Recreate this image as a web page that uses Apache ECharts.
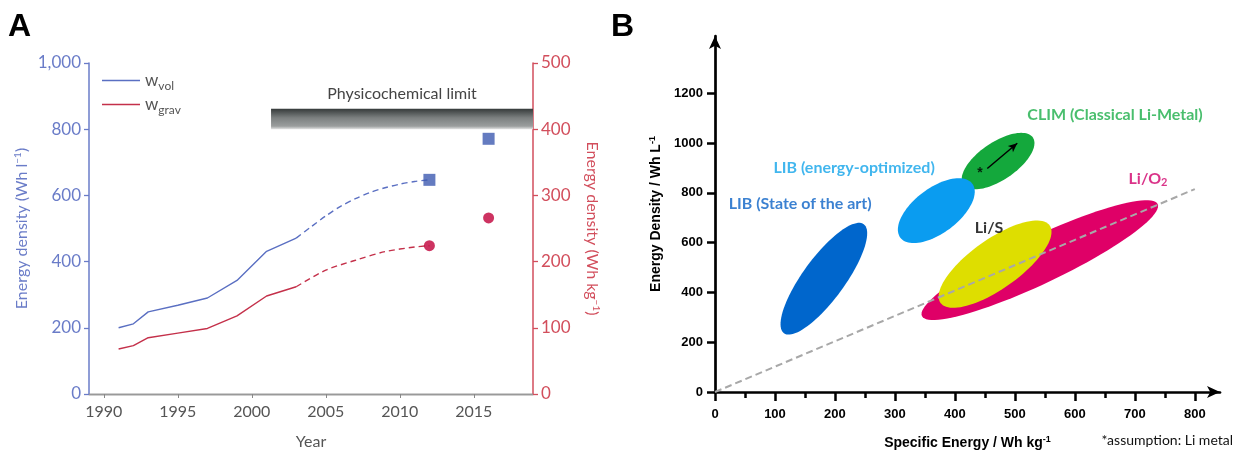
<!DOCTYPE html>
<html>
<head>
<meta charset="utf-8">
<script src="https://cdn.jsdelivr.net/npm/echarts@6/dist/echarts.min.js"></script>
<style>
  html, body { margin: 0; padding: 0; background: #ffffff; }
  #chart { width: 1236px; height: 451px; }
</style>
</head>
<body>
<div id="chart"></div>
<script>
// ---------- Panel A: energy density of Li-ion cells by year ----------
const volYears = [1991, 1992, 1993, 1995, 1997, 1999, 2001, 2003];
const volValues = [200, 212, 248, 268, 290, 343, 431, 471];
const volTrendYears = [2003, 2004, 2005, 2006, 2007, 2008, 2009, 2010, 2011, 2012];
const volTrendValues = [471, 505, 538, 567, 590, 609, 623, 634, 642, 647];
const volTargets = [[2012, 647], [2016, 771]];

const gravYears = [1991, 1992, 1993, 1995, 1997, 1999, 2001, 2003];
const gravValues = [68, 73, 85, 92, 99, 118, 148, 162];
const gravTrendYears = [2003, 2005, 2007, 2009, 2011, 2012];
const gravTrendValues = [162, 187, 202, 215, 222, 224];
const gravTargets = [[2012, 224], [2016, 266]];

const limitYears = [2001.3, 2019];
const limitGrav = [400, 431];

const yearTicks = [1990, 1995, 2000, 2005, 2010, 2015];

// ---------- Panel B: specific energy vs energy density ----------
const regionNames = ['LIB (State of the art)', 'CLIM (Classical Li-Metal)', 'LIB (energy-optimized)', 'Li/O2', 'Li/S'];
// major-axis end points of each region: [Wh/kg, Wh/L, Wh/kg, Wh/L]
const regionAxes = [
  [115, 236, 248, 674],
  [414, 833, 530, 1022],
  [309, 620, 429, 837],
  [345, 305, 738, 755],
  [376, 358, 558, 669]
];
const regionLabelPos = [[142, 757], [667, 1113], [232, 901], [722, 858], [457, 658]];
const refLine = [[0, 0], [800, 815]];
const climArrow = [[454, 898], [504, 999]];
const liMetalMark = [[442, 878]];
const energyTicks = [0, 100, 200, 300, 400, 500, 600, 700, 800];
const energyMinorTicks = [50, 150, 250, 350, 450, 550, 650, 750];
const densityTicks = [0, 200, 400, 600, 800, 1000, 1200];

// region appearance: fill, label colour, width of the minor axis relative to the major axis
const regionStyle = [
  { fill: '#0066cc', text: '#0a62c6', ratio: 0.31 },
  { fill: '#14a83c', text: '#1cae48', ratio: 0.45 },
  { fill: '#0a9cf0', text: '#12a4ea', ratio: 0.5 },
  { fill: '#df0067', text: '#d1006b', ratio: 0.18 },
  { fill: '#dede00', text: '#000000', ratio: 0.37 }
];

const BLUE_AXIS = '#6a7cc8';
const RED_AXIS = '#d24e5c';
const VOL_LINE = '#5a6fc2';
const GRAV_LINE = '#c4304a';

function zipXY(xs, ys) { return xs.map((x, i) => [x, ys[i]]); }

function ellipseRenderer(style) {
  return function (params, api) {
    const p1 = api.coord([api.value(0), api.value(1)]);
    const p2 = api.coord([api.value(2), api.value(3)]);
    const cx = (p1[0] + p2[0]) / 2, cy = (p1[1] + p2[1]) / 2;
    const dx = (p2[0] - p1[0]) / 2, dy = (p2[1] - p1[1]) / 2;
    const a = Math.hypot(dx, dy);
    const ux = dx / a, uy = dy / a;
    const b = a * style.ratio;
    const pts = [];
    for (let i = 0; i < 96; i++) {
      const t = i / 96 * Math.PI * 2;
      const c = Math.cos(t), s = Math.sin(t);
      pts.push([cx + a * c * ux - b * s * uy, cy + a * c * uy + b * s * ux]);
    }
    return { type: 'polygon', shape: { points: pts }, style: { fill: style.fill } };
  };
}

const regionSeries = regionNames.map((name, i) => ({
  type: 'custom',
  name: name,
  xAxisIndex: 3, yAxisIndex: 2,
  renderItem: ellipseRenderer(regionStyle[i]),
  encode: { x: [0, 2], y: [1, 3] },
  data: [regionAxes[i]],
  silent: true
}));

const regionLabelSeries = regionNames.map((name, i) => ({
  type: 'scatter',
  xAxisIndex: 3, yAxisIndex: 2,
  data: [regionLabelPos[i]],
  symbolSize: 1,
  itemStyle: { color: 'rgba(0,0,0,0)' },
  silent: true,
  z: 5,
  label: {
    show: true,
    position: 'inside',
    formatter: name === 'Li/O2' ? '{m|Li/O}{s|2}' : name,
    fontFamily: 'Lato',
    fontWeight: 'bold',
    fontSize: 16,
    color: regionStyle[i].text,
    rich: {
      m: { fontFamily: 'Lato', fontWeight: 'bold', fontSize: 16, color: regionStyle[i].text },
      s: { fontFamily: 'Lato', fontWeight: 'bold', fontSize: 11, color: regionStyle[i].text, padding: [8, 0, 0, 0] }
    }
  }
}));

const plain = v => String(v);

const chart = echarts.init(document.getElementById('chart'), null, { renderer: 'canvas' });

chart.setOption({
  animation: false,
  backgroundColor: '#ffffff',
  textStyle: { fontFamily: 'Lato' },
  grid: [
    { left: 89, top: 63, width: 444, height: 331, outerBoundsMode: 'none', containLabel: false },
    { left: 715, top: 36, width: 505, height: 356, outerBoundsMode: 'none', containLabel: false }
  ],
  legend: {
    left: 97, top: 67,
    orient: 'vertical',
    itemWidth: 38, itemHeight: 12, itemGap: 4,
    icon: 'path://M0,0 L38,0 L38,1.4 L0,1.4 Z',
    data: ['wvol', 'wgrav'],
    formatter: function (n) { return '{w|w}{s|' + n.slice(1) + '}'; },
    textStyle: {
      rich: {
        w: { fontFamily: 'Lato', fontSize: 17, color: '#555', lineHeight: 18, verticalAlign: 'middle' },
        s: { fontFamily: 'Lato', fontSize: 12, color: '#555', padding: [11, 0, 0, 0] }
      }
    },
    selectedMode: false
  },
  xAxis: [
    {
      gridIndex: 0, type: 'value', min: 1989, max: 2019, position: 'bottom',
      name: 'Year', nameLocation: 'middle', nameGap: 40,
      nameTextStyle: { color: '#555', fontSize: 16, fontFamily: 'Lato' },
      axisLine: { lineStyle: { color: '#888', width: 1.3 } },
      axisTick: { show: true, length: 4, customValues: yearTicks, lineStyle: { color: '#888' } },
      axisLabel: { customValues: yearTicks, color: '#555', fontSize: 16, margin: 10, fontFamily: 'Lato', formatter: plain },
      splitLine: { show: false }
    },
    {
      gridIndex: 0, type: 'value', min: 1989, max: 2019, position: 'top',
      axisLine: { lineStyle: { color: '#999', width: 1.3 } },
      axisTick: { show: false }, axisLabel: { show: false }, splitLine: { show: false }
    },
    {
      gridIndex: 1, type: 'value', min: 0, max: 842, position: 'bottom',
      axisLine: { show: false },
      axisTick: { show: true, length: 6, customValues: energyMinorTicks, lineStyle: { color: '#000', width: 2.5 } },
      axisLabel: { show: false }, splitLine: { show: false }
    },
    {
      gridIndex: 1, type: 'value', min: 0, max: 842, position: 'bottom',
      name: '{b|Specific Energy / Wh kg}{u|-1}', nameLocation: 'middle', nameGap: 43,
      nameTextStyle: {
        rich: {
          b: { fontFamily: 'Liberation Sans', fontWeight: 'bold', fontSize: 14, color: '#000' },
          u: { fontFamily: 'Liberation Sans', fontWeight: 'bold', fontSize: 9, color: '#000', padding: [0, 0, 8, 0] }
        }
      },
      axisLine: { show: true, symbol: ['none', 'arrow'], symbolSize: [9, 13], lineStyle: { color: '#000', width: 2.7 } },
      axisTick: { show: true, length: 9, customValues: energyTicks, lineStyle: { color: '#000', width: 2.5 } },
      axisLabel: { customValues: energyTicks, color: '#000', fontWeight: 'bold', fontSize: 13, margin: 16, fontFamily: 'Liberation Sans', formatter: plain },
      splitLine: { show: false }
    }
  ],
  yAxis: [
    {
      gridIndex: 0, type: 'value', min: 0, max: 1000, interval: 200, position: 'left',
      name: '{t|Energy density (Wh l}{u|−1}{t|)}', nameLocation: 'middle', nameGap: 58,
      nameTextStyle: {
        rich: {
          t: { fontFamily: 'Lato', fontSize: 16, color: BLUE_AXIS },
          u: { fontFamily: 'Lato', fontSize: 10, color: BLUE_AXIS, padding: [0, 0, 8, 0] }
        }
      },
      axisLine: { show: true, lineStyle: { color: BLUE_AXIS, width: 1.5 } },
      axisTick: { show: true, length: 5, lineStyle: { color: BLUE_AXIS, width: 1.3 } },
      axisLabel: {
        color: BLUE_AXIS, fontSize: 17, margin: 8, fontFamily: 'Lato',
        formatter: v => v >= 1000 ? (Math.floor(v / 1000) + ',' + String(v % 1000).padStart(3, '0')) : String(v)
      },
      splitLine: { show: false }
    },
    {
      gridIndex: 0, type: 'value', min: 0, max: 500, interval: 100, position: 'right',
      name: '{t|Energy density (Wh kg}{u|−1}{t|)}', nameLocation: 'middle', nameGap: 50, nameRotate: -90,
      nameTextStyle: {
        rich: {
          t: { fontFamily: 'Lato', fontSize: 16, color: RED_AXIS },
          u: { fontFamily: 'Lato', fontSize: 10, color: RED_AXIS, padding: [0, 0, 8, 0] }
        }
      },
      axisLine: { show: true, lineStyle: { color: RED_AXIS, width: 1.5 } },
      axisTick: { show: true, length: 5, lineStyle: { color: RED_AXIS, width: 1.3 } },
      axisLabel: { color: RED_AXIS, fontSize: 17, margin: 8, fontFamily: 'Lato', formatter: plain },
      splitLine: { show: false }
    },
    {
      gridIndex: 1, type: 'value', min: 0, max: 1430, position: 'left',
      name: '{b|Energy Density / Wh L}{u|-1}', nameLocation: 'middle', nameGap: 50,
      nameTextStyle: {
        rich: {
          b: { fontFamily: 'Liberation Sans', fontWeight: 'bold', fontSize: 14, color: '#000' },
          u: { fontFamily: 'Liberation Sans', fontWeight: 'bold', fontSize: 9, color: '#000', padding: [0, 0, 8, 0] }
        }
      },
      axisLine: { show: true, symbol: ['none', 'arrow'], symbolSize: [9, 13], lineStyle: { color: '#000', width: 2.7 } },
      axisTick: { show: true, length: 8, customValues: densityTicks, lineStyle: { color: '#000', width: 2.5 } },
      axisLabel: { customValues: densityTicks, color: '#000', fontWeight: 'bold', fontSize: 13, margin: 12, fontFamily: 'Liberation Sans', formatter: plain },
      splitLine: { show: false }
    }
  ],
  graphic: [
    { type: 'text', left: 8, top: 11, style: { text: 'A', font: 'bold 32px "Liberation Sans"', fill: '#000' } },
    { type: 'text', left: 611, top: 11, style: { text: 'B', font: 'bold 32px "Liberation Sans"', fill: '#000' } },
    { type: 'text', right: 3, top: 433, style: { text: '*assumption: Li metal', font: '14px Lato', fill: '#111' } }
  ],
  series: [
    {
      type: 'line', name: 'wvol', xAxisIndex: 0, yAxisIndex: 0,
      data: zipXY(volYears, volValues), symbol: 'none',
      lineStyle: { color: VOL_LINE, width: 1.4 }, itemStyle: { color: VOL_LINE }
    },
    {
      type: 'line', name: 'wvol-trend', xAxisIndex: 0, yAxisIndex: 0,
      data: zipXY(volTrendYears, volTrendValues), symbol: 'none', smooth: 0.3,
      lineStyle: { color: VOL_LINE, width: 1.4, type: [6, 4] }
    },
    {
      type: 'scatter', xAxisIndex: 0, yAxisIndex: 0, data: volTargets,
      symbol: 'rect', symbolSize: 12, itemStyle: { color: '#3d5ab0' }, z: 4
    },
    {
      type: 'line', name: 'wgrav', xAxisIndex: 0, yAxisIndex: 1,
      data: zipXY(gravYears, gravValues), symbol: 'none',
      lineStyle: { color: GRAV_LINE, width: 1.4 }, itemStyle: { color: GRAV_LINE },
      markArea: {
        silent: true,
        itemStyle: {
          color: {
            type: 'linear', x: 0, y: 0, x2: 0, y2: 1,
            colorStops: [
              { offset: 0, color: '#353a3a' },
              { offset: 0.45, color: '#7c8080' },
              { offset: 0.85, color: '#9a9d9d' },
              { offset: 1, color: '#e2e2e2' }
            ]
          }
        },
        label: {
          show: true, position: 'top', distance: 7,
          color: '#444', fontSize: 16, fontFamily: 'Lato',
          formatter: 'Physicochemical limit'
        },
        data: [[{ coord: [limitYears[0], limitGrav[0]] }, { coord: [limitYears[1], limitGrav[1]] }]]
      }
    },
    {
      type: 'line', name: 'wgrav-trend', xAxisIndex: 0, yAxisIndex: 1,
      data: zipXY(gravTrendYears, gravTrendValues), symbol: 'none', smooth: 0.3,
      lineStyle: { color: GRAV_LINE, width: 1.4, type: [6, 4] }
    },
    {
      type: 'scatter', xAxisIndex: 0, yAxisIndex: 1, data: gravTargets,
      symbol: 'circle', symbolSize: 11, itemStyle: { color: '#c0003a' }, z: 4
    },
    ...regionSeries,
    {
      type: 'line', xAxisIndex: 3, yAxisIndex: 2, data: refLine, symbol: 'none',
      lineStyle: { color: '#a8a8a8', width: 2, type: [7, 4] }, z: 4, silent: true
    },
    {
      type: 'scatter', xAxisIndex: 3, yAxisIndex: 2, data: liMetalMark,
      symbolSize: 1, itemStyle: { color: 'rgba(0,0,0,0)' }, z: 5, silent: true,
      label: { show: true, position: 'inside', formatter: '*', color: '#000', fontSize: 14, fontFamily: 'Liberation Sans', fontWeight: 'bold' },
      markLine: {
        silent: true, symbol: ['none', 'arrow'], symbolSize: [6, 9],
        lineStyle: { color: '#000', width: 1.4, type: 'solid' },
        label: { show: false },
        data: [[{ coord: climArrow[0] }, { coord: climArrow[1] }]]
      }
    },
    ...regionLabelSeries
  ]
});
</script>
</body>
</html>
